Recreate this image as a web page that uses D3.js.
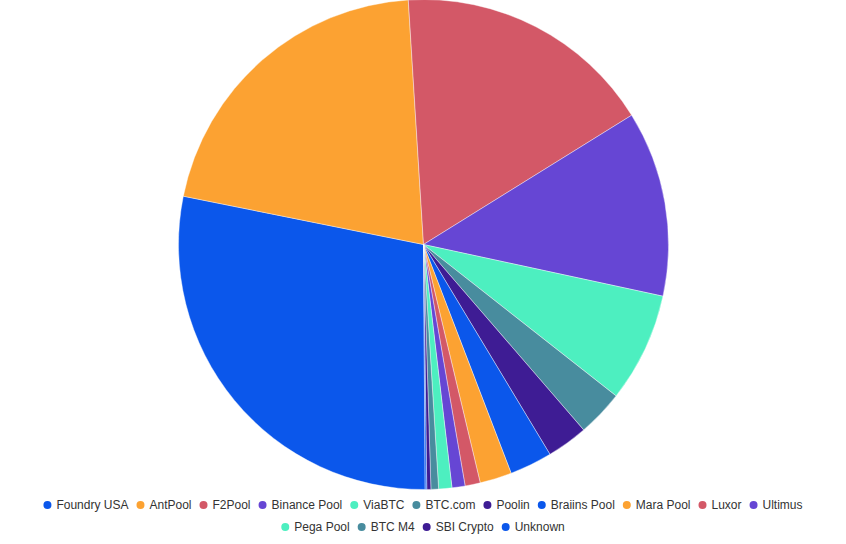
<!DOCTYPE html>
<html>
<head>
<meta charset="utf-8">
<script src="https://cdn.jsdelivr.net/npm/d3@7"></script>
<style>
  html, body { margin: 0; padding: 0; background: #fff; }
  svg { display: block; font-family: "Liberation Sans", Arial, sans-serif; }
</style>
</head>
<body>
<div id="chart"></div>
<script>
"use strict";

// mining pool share (%)
const pools = ["Foundry USA", "AntPool", "F2Pool", "Binance Pool", "ViaBTC", "BTC.com", "Poolin",
    "Braiins Pool", "Mara Pool", "Luxor", "Ultimus", "Pega Pool", "BTC M4", "SBI Crypto", "Unknown"];
const shares = [28.2, 20.8, 17.1, 12.2, 7.2, 3.05, 2.7, 2.8, 2.1, 1.0, 0.86, 0.87, 0.5, 0.27, 0.1];
const palette = ["#0b57eb", "#fca232", "#d35867", "#6646d4", "#4defc0", "#488c9e", "#3e1c94"];

const msm = {
    width: 846,
    height: 544,
    cx: 423.5,
    cy: 244.5,
    radius: 245,
    legendY: 505,
    legendRow: 22,
    legendWrap: 800
};

const svgContainer = d3.select("#chart")
    .append("svg")
    .attr("width", msm.width)
    .attr("height", msm.height);

const color = d3.scaleOrdinal()
    .domain(pools)
    .range(palette);

const rows = pools.map((p, i) => ({ name: p, value: shares[i] }));

// chart starts just left of 6 o'clock and runs clockwise
const start = 179.6 * Math.PI / 180;
const pie = d3.pie()
    .sort(null)
    .value(d => d.value)
    .startAngle(start)
    .endAngle(start + 2 * Math.PI);

const arc = d3.arc()
    .innerRadius(0)
    .outerRadius(msm.radius);

svgContainer.append("g")
    .attr("transform", "translate(" + msm.cx + "," + msm.cy + ")")
    .selectAll("path")
    .data(pie(rows))
    .enter()
    .append("path")
    .attr("d", arc)
    .attr("fill", d => color(d.data.name))
    .attr("stroke", "#ffffff")
    .attr("stroke-width", 0.4);

// legend: measure items, wrap into rows, center each row
const legend = svgContainer.append("g");
const items = legend.selectAll("g")
    .data(pools)
    .enter()
    .append("g");

items.append("circle")
    .attr("r", 4)
    .attr("fill", d => color(d));

items.append("text")
    .attr("x", 9)
    .attr("dy", "0.35em")
    .style("font-size", "12px")
    .style("fill", "#333")
    .text(d => d);

let lines = [[]];
let lineW = 0;
items.each(function (d) {
    let w = 9 + this.querySelector("text").getComputedTextLength() + 12;
    if (lineW + w > msm.legendWrap && lines[lines.length - 1].length) {
        lines.push([]);
        lineW = 0;
    }
    lines[lines.length - 1].push({ node: this, w: w });
    lineW += w;
});

lines.forEach((line, r) => {
    let total = d3.sum(line, l => l.w) - 12 + 4;
    let x = (msm.width - total) / 2 + 4;
    line.forEach(l => {
        d3.select(l.node).attr("transform", "translate(" + x + "," + (msm.legendY + r * msm.legendRow) + ")");
        x += l.w;
    });
});
</script>
</body>
</html>
